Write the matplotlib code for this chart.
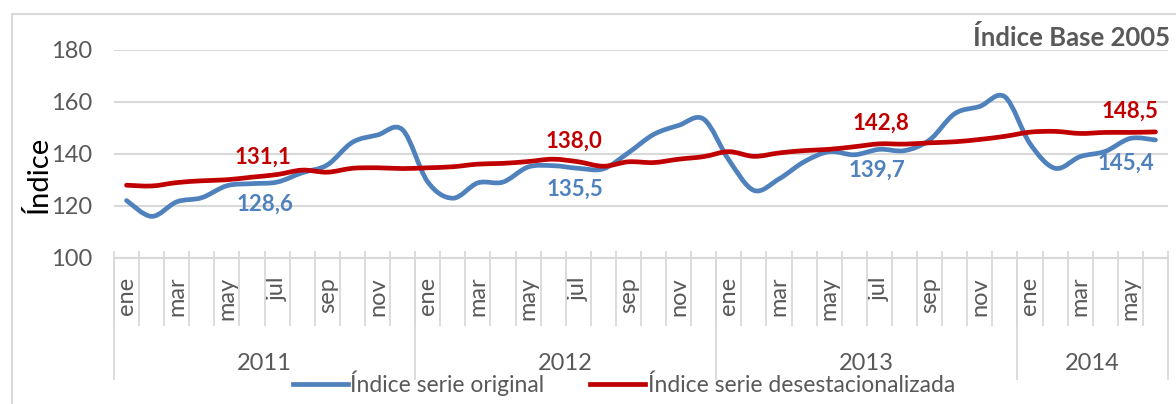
import matplotlib
matplotlib.use("Agg")
from matplotlib import pyplot as plt
from matplotlib.path import Path
from matplotlib.patches import PathPatch, Rectangle
from matplotlib.lines import Line2D

plt.rcParams['font.family'] = ['Lato', 'DejaVu Sans']

months = ["ene", "feb", "mar", "abr", "may", "jun", "jul", "ago", "sep", "oct", "nov", "dic"]
years = ["2011", "2012", "2013", "2014"]
months_per_year = [12, 12, 12, 6]

original = [122.1, 116.0, 121.6, 123.2, 127.8, 128.6, 129.2, 132.8, 135.8, 144.5, 147.3, 149.3,
            129.3, 123.0, 128.9, 129.2, 135.0, 135.5, 134.5, 134.3, 140.5, 147.5, 151.0, 153.4,
            137.7, 126.0, 130.4, 137.0, 140.9, 139.7, 141.8, 141.3, 145.4, 155.5, 158.3, 162.0,
            144.0, 134.5, 139.0, 141.0, 146.0, 145.4]
desest = [128.0, 127.7, 129.0, 129.7, 130.1, 131.1, 132.1, 133.8, 133.0, 134.5, 134.7, 134.4,
          134.7, 135.1, 136.1, 136.4, 137.1, 138.0, 137.0, 135.3, 137.0, 136.7, 138.0, 139.0,
          140.9, 139.1, 140.4, 141.3, 141.8, 142.8, 143.9, 143.8, 144.3, 144.7, 145.6, 146.8,
          148.4, 148.7, 147.9, 148.3, 148.3, 148.5]
labelled = [5, 17, 29, 41]  # junio de cada año

BLUE = "#4F81BD"
RED = "#C00000"
GRAY = "#595959"
GRID = "#D9D9D9"


def smooth_path(ys):
	# curva suave tipo Excel (Bezier Catmull-Rom)
	pts = list(enumerate(ys))
	n = len(pts)
	verts = [pts[0]]
	codes = [Path.MOVETO]
	for i in range(n - 1):
		p0 = pts[max(i - 1, 0)]
		p1 = pts[i]
		p2 = pts[i + 1]
		p3 = pts[min(i + 2, n - 1)]
		c1 = (p1[0] + (p2[0] - p0[0]) / 6, p1[1] + (p2[1] - p0[1]) / 6)
		c2 = (p2[0] - (p3[0] - p1[0]) / 6, p2[1] - (p3[1] - p1[1]) / 6)
		verts += [c1, c2, p2]
		codes += [Path.CURVE4] * 3
	return Path(verts, codes)


fig = plt.figure(figsize=(11.76, 4.04), dpi=100)
ax = fig.add_axes([114 / 1176, 146 / 404, 1054 / 1176, 208 / 404])

n = len(original)
ax.set_xlim(-0.5, n - 0.5)
ax.set_ylim(100, 180)
ax.set_yticks([100, 120, 140, 160, 180])
ax.tick_params(axis='y', length=0, pad=16, labelsize=17, labelcolor=GRAY)
ax.yaxis.grid(True, color=GRID, linewidth=1.5)
ax.set_axisbelow(True)
for s in ["top", "right", "left"]:
	ax.spines[s].set_visible(False)
ax.spines["bottom"].set_color(GRID)
ax.spines["bottom"].set_linewidth(1.5)

month_labels = [months[i % 12] for i in range(n)]
ax.set_xticks(range(0, n, 2), [month_labels[i] for i in range(0, n, 2)], rotation=90)
ax.tick_params(axis='x', length=0, pad=13.5, labelsize=17, labelcolor=GRAY)

xt = ax.get_xaxis_transform()
ax.vlines([i - 0.5 for i in range(n + 1)], -0.327, 0.034, color=GRID, linewidth=1.3,
		  transform=xt, clip_on=False)
start = 0
bounds = [-0.5]
for y, m in zip(years, months_per_year):
	ax.text(start + (m - 1) / 2, -0.505, y, transform=xt, ha='center', va='center',
			fontsize=17, color=GRAY)
	start += m
	bounds.append(start - 0.5)
ax.vlines(bounds, -0.5865, 0, color=GRID, linewidth=1.3, transform=xt, clip_on=False)

ax.add_patch(PathPatch(smooth_path(original), fill=False, edgecolor=BLUE, linewidth=3.4,
					   capstyle='round', joinstyle='round', zorder=3))
ax.add_patch(PathPatch(smooth_path(desest), fill=False, edgecolor=RED, linewidth=3.4,
					   capstyle='round', joinstyle='round', zorder=4))

red_off = [(8, 14), (15, 13), (19, 17), (-18, 15)]
blue_off = [(9, -15), (16, -17), (16, -11), (-21, -17)]
for i, ro, bo in zip(labelled, red_off, blue_off):
	ax.annotate(f"{desest[i]:.1f}".replace(".", ","), (i, desest[i]), xytext=ro,
				textcoords='offset points', ha='center', va='center', fontsize=16,
				fontweight='bold', color=RED, zorder=5)
	ax.annotate(f"{original[i]:.1f}".replace(".", ","), (i, original[i]), xytext=bo,
				textcoords='offset points', ha='center', va='center', fontsize=16,
				fontweight='bold', color=BLUE, zorder=5)

fig.text(38 / 1176, 1 - 174 / 404, "Índice", rotation=90, ha='center', va='center',
		 fontsize=21, color='black')
fig.text(1170 / 1176, 1 - 37 / 404, "Índice Base 2005", ha='right', va='center',
		 fontsize=18.5, fontweight='bold', color=GRAY)

handles = [Line2D([], [], color=BLUE, linewidth=3.4),
		   Line2D([], [], color=RED, linewidth=3.4)]
fig.legend(handles, ["Índice serie original", "Índice serie desestacionalizada"],
		   loc='center', bbox_to_anchor=(624 / 1176, 1 - 383 / 404), ncol=2, frameon=False,
		   fontsize=16.5, labelcolor=GRAY, handlelength=2.4, handletextpad=0.1,
		   columnspacing=2.0)

fig.patches.append(Rectangle((12 / 1176, -0.1), 1.2, 1.1 - 14 / 404,
							 transform=fig.transFigure, fill=False, edgecolor=GRID,
							 linewidth=1.5))

fig.savefig("out.png", dpi=100, facecolor="white")
